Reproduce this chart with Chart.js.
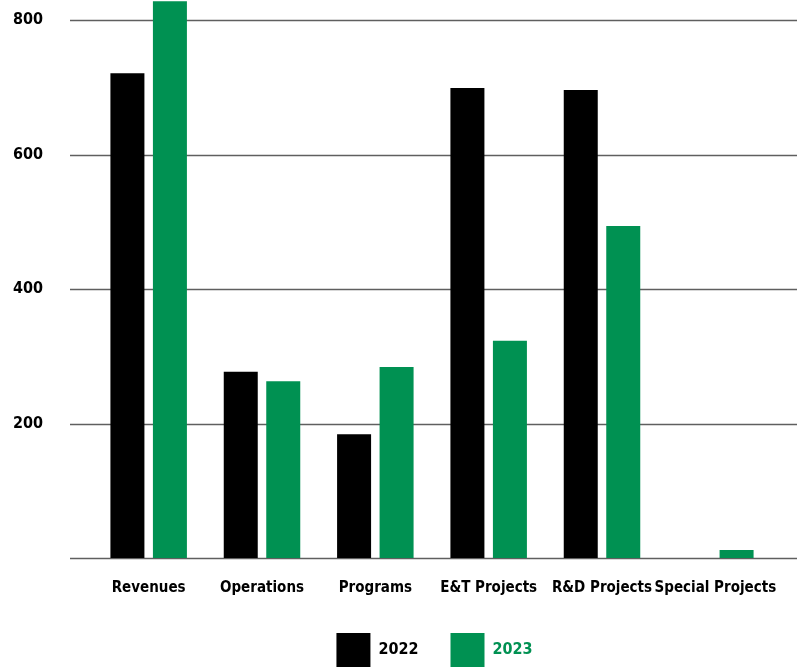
<!DOCTYPE html>
<html>
<head>
<meta charset="utf-8">
<script src="https://cdn.jsdelivr.net/npm/chart.js@4"></script>
<style>
  html, body { margin: 0; padding: 0; background: #fff; }
  #wrap { width: 799px; height: 671px; }
</style>
</head>
<body>
<div id="wrap"><canvas id="barchart"></canvas></div>
<script>
// data
const categories = ['Revenues', 'Operations', 'Programs', 'E&T Projects', 'R&D Projects', 'Special Projects'];
const years = ['2022', '2023'];
const values2022 = [721, 277, 184, 699, 696, 0];
const values2023 = [828, 263, 284, 323, 494, 12];
const yTicks = [0, 200, 400, 600, 800];

const green = '#009152';
const fontFam = "'DejaVu Sans Condensed', 'Liberation Sans Narrow', sans-serif";

// horizontal lines, drawn wider than the plot area like the original
const gridLines = {
    id: 'gridLines',
    beforeDatasetsDraw(chart) {
        const y = chart.scales.y;
        const c = chart.ctx;
        c.save();
        c.strokeStyle = '#5f5f5f';
        c.lineWidth = 1.5;
        y.ticks.forEach(t => {
            const py = Math.round(y.getPixelForValue(t.value)) + 0.5;
            c.beginPath();
            c.moveTo(70, py);
            c.lineTo(chart.width - 2, py);
            c.stroke();
        });
        c.restore();
    }
};

// nudge the legend, it sits off centre in the original
const legendShift = {
    id: 'legendShift',
    afterLayout(chart) {
        chart.legend.left += 42;
        chart.legend.right += 42;
        chart.legend.top += 6;
        chart.legend.bottom += 6;
    }
};

const ctx = document.getElementById('barchart').getContext('2d');
const barchart = new Chart(ctx, {
    type: 'bar',
    data: {
        labels: categories,
        datasets: [{
            label: years[0],
            data: values2022,
            backgroundColor: '#000000'
        }, {
            label: years[1],
            data: values2023,
            backgroundColor: green
        }]
    },
    options: {
        responsive: true,
        maintainAspectRatio: false,
        animation: false,
        datasets: {
            bar: {
                categoryPercentage: 0.75,
                barPercentage: 0.8
            }
        },
        layout: {
            padding: { left: 13, right: 27, top: 0, bottom: 0 }
        },
        plugins: {
            tooltip: { enabled: false },
            legend: {
                position: 'bottom',
                labels: {
                    boxWidth: 34,
                    boxHeight: 34,
                    padding: 32,
                    font: { family: fontFam, size: 16, weight: 'bold' },
                    generateLabels(chart) {
                        const items = Chart.defaults.plugins.legend.labels.generateLabels(chart);
                        items.forEach(it => {
                            it.fontColor = it.fillStyle;
                            it.lineWidth = 0;
                            it.strokeStyle = 'rgba(0,0,0,0)';
                        });
                        return items;
                    }
                }
            }
        },
        scales: {
            x: {
                grid: { display: false },
                border: { display: false },
                ticks: {
                    color: '#000',
                    padding: 13,
                    maxRotation: 0,
                    autoSkip: false,
                    font: { family: fontFam, size: 15, weight: 'bold' }
                },
                afterFit(scale) {
                    scale.height = 37;
                    scale.paddingLeft = 0;
                    scale.paddingRight = 0;
                }
            },
            y: {
                min: 0,
                max: 830,
                grid: { display: false },
                border: { display: false },
                afterBuildTicks(scale) {
                    scale.ticks = yTicks.map(v => ({ value: v }));
                },
                afterFit(scale) {
                    scale.width = 79;
                    scale.paddingTop = 0;
                    scale.paddingBottom = 0;
                },
                ticks: {
                    color: '#000',
                    crossAlign: 'far',
                    font: { family: fontFam, size: 16, weight: 'bold' },
                    callback: v => (v === 0 ? '' : v)
                }
            }
        }
    },
    plugins: [gridLines, legendShift]
});
</script>
</body>
</html>
